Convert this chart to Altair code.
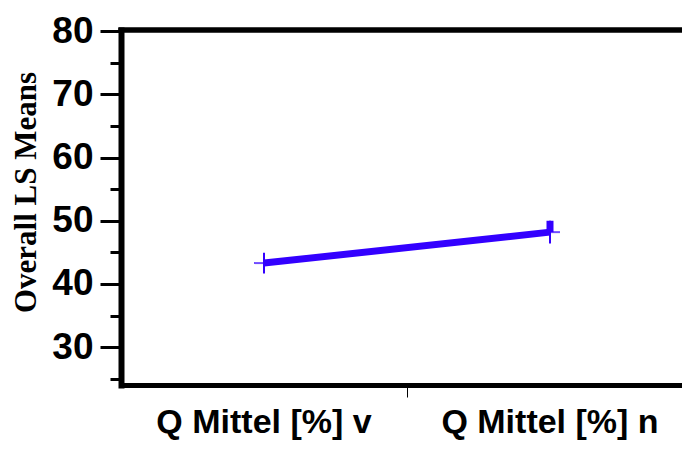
import altair as alt
import pandas as pd

categories = ["Q Mittel [%] v", "Q Mittel [%] n"]
means = [43.3, 48.2]
lower = [41.65, 46.4]
upper = [44.95, 50.0]
major_ticks = [30, 40, 50, 60, 70, 80]
minor_ticks = [25, 35, 45, 55, 65, 75]

df = pd.DataFrame({"cat": categories, "mean": means, "lo": lower, "hi": upper, "idx": [0, 1]})

BLUE = "#3300ff"
W, H = 561, 355
XR = 572
ydom = [24, 80.2]

x_scale = alt.Scale(type="band", range=[0, XR], paddingInner=0, paddingOuter=0)
y_scale = alt.Scale(domain=ydom, nice=False, zero=False)

x_main = alt.X(
    "cat:N",
    sort=categories,
    scale=x_scale,
    axis=alt.Axis(
        title=None,
        orient="bottom",
        labelFont="Liberation Sans",
        labelFontSize=34,
        labelFontWeight="bold",
        labelColor="black",
        labelAngle=0,
        labelLimit=500,
        labelPadding=20,
        ticks=False,
        domainColor="black",
        domainWidth=5,
        domainCap="square",
        grid=False,
    ),
)
x_minor = alt.X(
    "cat:N",
    sort=categories,
    scale=x_scale,
    axis=alt.Axis(
        title=None,
        orient="bottom",
        values=[categories[1]],
        labels=False,
        domain=False,
        grid=False,
        tickBand="extent",
        tickSize=12,
        tickWidth=1,
        tickColor="black",
    ),
)

y_main = alt.Y(
    "mean:Q",
    scale=y_scale,
    axis=alt.Axis(
        orient="left",
        values=major_ticks,
        title="Overall LS Means",
        titleFont="Liberation Serif",
        titleFontSize=31,
        titleFontWeight="bold",
        titleColor="black",
        titleAngle=270,
        titleAlign="center",
        titleBaseline="alphabetic",
        titleX=-86,
        titleY=162,
        labelFont="Liberation Sans",
        labelFontSize=37,
        labelFontWeight="bold",
        labelColor="black",
        labelPadding=7,
        labelFlush=False,
        labelOverlap=False,
        tickSize=21,
        tickWidth=3,
        tickColor="black",
        domainColor="black",
        domainWidth=6,
        domainCap="square",
        grid=False,
    ),
)
y_minor = alt.Y(
    "mean:Q",
    scale=y_scale,
    axis=alt.Axis(
        orient="left",
        values=minor_ticks,
        title=None,
        labels=False,
        domain=False,
        grid=False,
        tickSize=11,
        tickWidth=3,
        tickColor="black",
    ),
)

base = alt.Chart(df)

line = base.mark_line(color=BLUE, strokeWidth=7).encode(x=x_main, y=y_main)
ticks = base.mark_tick(color=BLUE, thickness=2, size=20, orient="horizontal").encode(
    x=x_minor, y=y_minor
)
err = base.mark_rule(color=BLUE, strokeWidth=2).encode(
    x=alt.X("cat:N", sort=categories, scale=x_scale, axis=None),
    y=alt.Y("lo:Q", scale=y_scale, axis=None),
    y2="hi:Q",
)
thick = base.transform_filter("datum.idx == 1").mark_rule(color=BLUE, strokeWidth=7).encode(
    x=alt.X("cat:N", sort=categories, scale=x_scale, axis=None),
    y=alt.Y("mean:Q", scale=y_scale, axis=None),
    y2="hi:Q",
)
top = base.mark_rule(color="black", strokeWidth=5, strokeCap="square").encode(
    x=alt.value(0), x2=alt.value(W), y=alt.value(0)
)

chart = (
    alt.layer(line, ticks, err, thick, top)
    .resolve_axis(x="independent", y="independent")
    .properties(
        width=W,
        height=H,
        autosize=alt.AutoSizeParams(type="none"),
        padding={"left": 113, "top": 22, "right": 0, "bottom": 57},
        background="white",
    )
    .configure_view(stroke=None)
)

chart.save("out.html", embed_options={"renderer": "svg", "actions": False})
